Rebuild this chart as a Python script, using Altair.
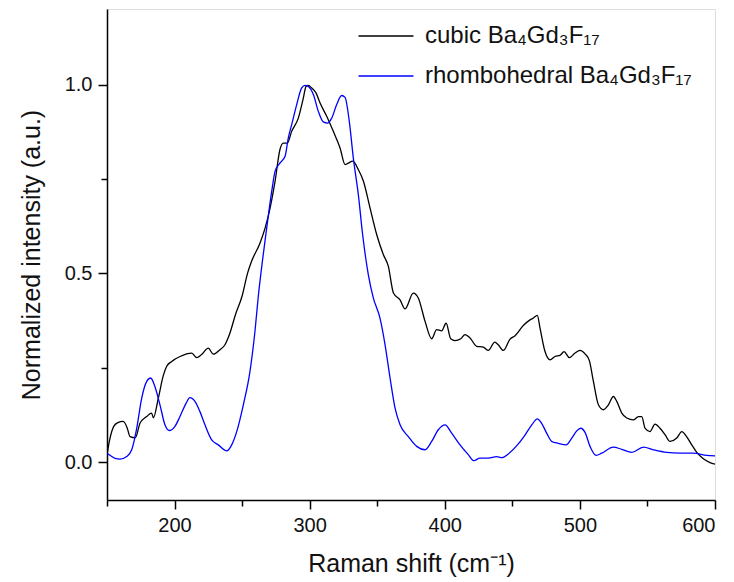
import altair as alt
import pandas as pd

# cubic Ba4Gd3F17 (black)
cubic_x = [150, 152, 155, 158, 162, 165, 167, 171, 174.4, 179.4, 183, 184.3, 188, 191.7, 194.2, 197.9,
           204, 212.7, 216.4, 220, 225, 228.7, 233.6, 237.3, 241, 245, 250, 254, 257, 263.2, 267, 270.7,
           274.4, 278, 280.5, 283.5, 286.7, 291.6, 295.3, 297.3, 299, 301.5, 304.7, 307.7, 312.6, 317.5,
           322.5, 326.2, 328.6, 331.9, 336, 339.8, 344.7, 349.6, 354.5, 358.2, 362, 366.9, 370.6, 376.7,
           380.4, 385.4, 390.3, 394, 397.7, 401, 404.4, 407.6, 411.8, 415, 418.7, 423.6, 428.5, 432.2,
           437, 439.6, 443.3, 448.3, 452, 458.1, 463.1, 465.6, 468.5, 470.5, 474.2, 477.9, 481.6, 485.3,
           488.3, 492.2, 496.4, 500.1, 503.8, 507, 510, 513.7, 517.4, 521.1, 524.8, 527.3, 531, 534.7,
           539.6, 543.3, 545.8, 548.2, 551.9, 555.6, 559.3, 563, 566.7, 571.7, 575.4, 579, 582.8, 586.5,
           591.4, 596.3, 600]
cubic_y = [0.02, 0.06, 0.095, 0.105, 0.108, 0.09, 0.068, 0.065, 0.103, 0.121, 0.13, 0.118, 0.17, 0.23, 0.254, 0.267,
           0.28, 0.289, 0.277, 0.285, 0.302, 0.286, 0.298, 0.311, 0.342, 0.39, 0.44, 0.5, 0.532, 0.58, 0.62, 0.673,
           0.744, 0.828, 0.845, 0.845, 0.876, 0.911, 0.964, 0.995, 0.998, 0.991, 0.978, 0.951, 0.916, 0.876,
           0.832, 0.788, 0.792, 0.797, 0.775, 0.744, 0.673, 0.603, 0.55, 0.519, 0.448, 0.43, 0.406, 0.448,
           0.435, 0.373, 0.327, 0.351, 0.348, 0.368, 0.327, 0.322, 0.327, 0.338, 0.329, 0.307, 0.305, 0.296,
           0.318, 0.311, 0.296, 0.326, 0.335, 0.362, 0.377, 0.382, 0.389, 0.355, 0.293, 0.271, 0.28, 0.283,
           0.293, 0.277, 0.289, 0.296, 0.287, 0.269, 0.214, 0.152, 0.139, 0.152, 0.174, 0.161, 0.13, 0.117,
           0.112, 0.121, 0.121, 0.09, 0.081, 0.101, 0.09, 0.073, 0.055, 0.064, 0.081, 0.068, 0.046, 0.026,
           0.009, -0.001, -0.005]

# rhombohedral Ba4Gd3F17 (blue)
rhombo_x = [150, 152.5, 156, 159.6, 164.6, 168.3, 170, 172, 175.7, 179.4, 182.3, 185.5, 189.2, 192.9, 196.1,
            200.3, 204, 208.5, 211.4, 215.1, 218.8, 222.5, 227.5, 232.4, 238.6, 242.3, 246, 250.9, 255.8,
            259.5, 262, 265, 268.2, 271.9, 274.4, 278, 281.8, 284.2, 286.7, 290.4, 294.1, 296.6, 299, 302.8,
            306.4, 310.1, 313.1, 316.3, 320, 323.7, 326.2, 329.3, 332.3, 336, 339.2, 341.5, 343.4, 347.1, 352,
            355.8, 359.5, 363.2, 366.9, 373, 379.2, 385.4, 390.3, 395.2, 400.2, 405.1, 411.3, 417.4, 421.6,
            426, 432.2, 438.4, 442.2, 447, 453.3, 459, 464.4, 468.5, 471.7, 475.4, 479.2, 484.1, 489.8, 494,
            497.7, 500.6, 503.8, 507.5, 512, 516.2, 524.8, 531, 538.4, 547, 554.4, 564.3, 574.1, 584, 593.9, 600]
rhombo_y = [0.024, 0.018, 0.01, 0.008, 0.015, 0.033, 0.055, 0.09, 0.17, 0.214, 0.223, 0.2, 0.152, 0.099, 0.084,
            0.095, 0.121, 0.156, 0.171, 0.161, 0.134, 0.099, 0.059, 0.046, 0.03, 0.046, 0.081, 0.152, 0.24,
            0.346, 0.44, 0.532, 0.62, 0.717, 0.77, 0.792, 0.81, 0.859, 0.894, 0.947, 0.991, 0.998, 0.995, 0.973,
            0.929, 0.901, 0.898, 0.911, 0.947, 0.971, 0.966, 0.903, 0.806, 0.709, 0.603, 0.54, 0.497, 0.435, 0.382,
            0.311, 0.223, 0.143, 0.099, 0.068, 0.042, 0.033, 0.055, 0.086, 0.099, 0.077, 0.046, 0.02, 0.004,
            0.011, 0.011, 0.015, 0.012, 0.022, 0.044, 0.07, 0.099, 0.115, 0.103, 0.077, 0.055, 0.05, 0.046, 0.064,
            0.083, 0.09, 0.079, 0.042, 0.018, 0.024, 0.04, 0.034, 0.026, 0.04, 0.033, 0.026, 0.024, 0.024, 0.018, 0.017]

series_names = ["cubic Ba₄Gd₃F₁₇", "rhombohedral Ba₄Gd₃F₁₇"]
series_colors = ["#000000", "#0000ff"]
x_ticks = [150, 200, 250, 300, 350, 400, 450, 500, 550, 600]
y_ticks = [0.0, 0.25, 0.5, 0.75, 1.0]

df = pd.concat([
    pd.DataFrame({"x": cubic_x, "y": cubic_y, "s": series_names[0], "o": 0}),
    pd.DataFrame({"x": rhombo_x, "y": rhombo_y, "s": series_names[1], "o": 1}),
])

FONT = "Liberation Sans"

chart = alt.Chart(df).mark_line(strokeWidth=1.3, clip=True, interpolate="monotone").encode(
    x=alt.X("x:Q",
            scale=alt.Scale(domain=[150, 600], nice=False, zero=False),
            axis=alt.Axis(title="Raman shift (cm⁻¹)", values=x_ticks,
                          labelExpr="datum.value % 100 === 0 && datum.value > 150 ? datum.label : ''",
                          tickSize={"expr": "datum.value % 100 === 0 ? 9 : 6"},
                          grid=False, domainColor="black", tickColor="black", domainWidth=1.5,
                          tickWidth=1.5, labelFontSize=20, titleFontSize=25, labelFont=FONT,
                          titleFont=FONT, titleFontWeight="normal", labelColor="#111", titleColor="#111",
                          labelPadding=6, titlePadding=16)),
    y=alt.Y("y:Q",
            scale=alt.Scale(domain=[-0.1, 1.2], nice=False, zero=False),
            axis=alt.Axis(title="Normalized intensity (a.u.)", values=y_ticks, format=".1f",
                          labelExpr="datum.value === 0 || datum.value === 0.5 || datum.value === 1 ? datum.label : ''",
                          tickSize={"expr": "datum.value === 0 || datum.value === 0.5 || datum.value === 1 ? 9 : 6"},
                          grid=False, domainColor="black", tickColor="black", domainWidth=1.5,
                          tickWidth=1.5, labelFontSize=20, titleFontSize=25, labelFont=FONT,
                          titleFont=FONT, titleFontWeight="normal", labelColor="#111", titleColor="#111",
                          labelPadding=6, titlePadding=20)),
    color=alt.Color("s:N", scale=alt.Scale(domain=series_names, range=series_colors),
                    legend=alt.Legend(title=None, orient="none", legendX=258, legendY=6,
                                      symbolType="M-1.375,0H1.375", symbolSize=1600,
                                      symbolStrokeWidth=1.5, symbolFillColor="transparent",
                                      labelFontSize=24, labelFont=FONT, labelColor="#111",
                                      labelLimit=0, rowPadding=7, labelOffset=18, padding=0)),
    order="o:Q",
).properties(
    width=608, height=491,
    autosize=alt.AutoSizeParams(type="none"),
    padding={"left": 107, "top": 9, "right": 19, "bottom": 82},
).configure_view(stroke="black", strokeWidth=1.5).configure(background="white")

chart.save("out.html", embed_options={"renderer": "svg", "actions": False})
